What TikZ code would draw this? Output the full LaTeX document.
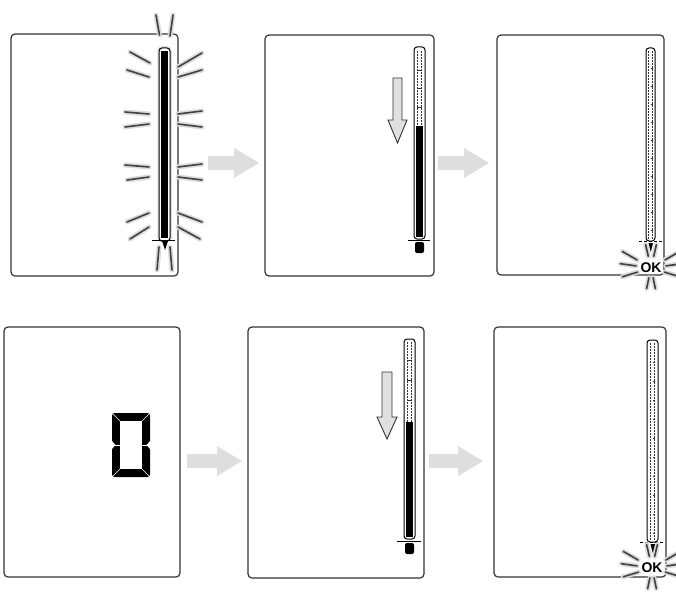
\documentclass[tikz,border=0pt]{standalone}
\usepackage{fontspec}
\setsansfont{Liberation Sans}
\begin{document}
\begin{tikzpicture}[x=1pt,y=-1pt,
  panel/.style={draw=black!80,line width=1.2pt,rounded corners=4pt,fill=white},
  flow/.style={fill=black!13},
  downarrow/.style={fill=black!12,draw=black!80,line width=0.9pt,line join=miter},
  barframe/.style={draw=black,line width=1pt,fill=white,rounded corners=3pt},
  barhalo/.style={draw=black!12,line width=3.5pt,rounded corners=3pt},
  dashin/.style={draw=black!80,line width=0.6pt,dash pattern=on 2pt off 1pt},
  tickin/.style={draw=black!80,line width=0.6pt},
  rayhalo/.style={draw=black!14,line width=5pt,line cap=round},
  raycore/.style={draw=black!75,line width=1.6pt,line cap=round},
  marker/.style={draw=black,line width=0.9pt},
  dmarker/.style={draw=black,line width=0.8pt,dash pattern=on 3pt off 2pt},
  oklabel/.style={fill=white,inner sep=0.8pt,rounded corners=2pt,font=\sffamily\bfseries\fontsize{14}{14}\selectfont}
]
\useasboundingbox (0,0) rectangle (676,599);
\fill[white] (0,0) rectangle (676,599);

% ---------- panels ----------
\draw[panel] (11,34) rectangle (178,276);
\draw[panel] (265,35) rectangle (434,276);
\draw[panel] (497,35) rectangle (664,275);
\draw[panel] (4,327) rectangle (180,577);
\draw[panel] (248,327) rectangle (424,578);
\draw[panel] (494,327) rectangle (666,577);

% ---------- flow arrows ----------
\newcommand\flowarr[3]{\fill[flow] (#1,#2-7) -- (#3-25,#2-7) -- (#3-25,#2-15) -- (#3,#2) -- (#3-25,#2+15) -- (#3-25,#2+7) -- (#1,#2+7) -- cycle;}
\flowarr{208}{163}{259}
\flowarr{438}{163}{489}
\flowarr{187}{461}{242}
\flowarr{429}{461}{483}

% ---------- panel 1: flashing bar ----------
\draw[barhalo] (159,48) rectangle (170,241);
\draw[barframe] (159,48) rectangle (170,241);
\fill[black] (161.3,51) rectangle (167.7,238);
\draw[marker] (152,240) -- (175,240);
\fill[black] (162,241) -- (168,241) -- (165,250) -- cycle;
\def\raysA{156/15/159.5/35, 173/15/170/36, 130/52/150/63, 127/70/149/77, 202/53/178/67, 202/70/178/77, 125/112/149/114, 125/127/149/124, 202/111/178/114, 202/127/178/124, 125/165/149/167, 127/180/149/177, 202/164/178/167, 202/180/178/177, 127/222/149/213, 130/239/149/227, 202/222/178/213, 200/239/178/227, 159/247/157/270, 170/247/172/270}
\foreach \a/\b/\c/\d in \raysA {\draw[rayhalo] (\a,\b) -- (\c,\d);}
\foreach \a/\b/\c/\d in \raysA {\draw[raycore] (\a,\b) -- (\c,\d);}

% ---------- panel 2: falling bar ----------
\draw[barframe] (414,47) rectangle (425,239);
\draw[dashin] (417.3,51) -- (417.3,126);
\draw[dashin] (421.7,51) -- (421.7,126);
\foreach \y in {70,88,107} {\draw[tickin] (417.3,\y) -- (421.7,\y);}
\fill[black] (416.3,126) rectangle (422.7,237);
\draw[marker] (408,240) -- (430,240);
\fill[black,rounded corners=2pt] (415,242) rectangle (424,253);
\draw[downarrow] (393,78) -- (402,78) -- (402,120) -- (407,120) -- (397.5,143) -- (388,120) -- (393,120) -- cycle;

% ---------- panel 3: empty bar + OK ----------
\draw[barframe] (646,48) rectangle (655,241);
\draw[dashin] (648.5,51) -- (648.5,239);
\draw[dashin] (652.5,51) -- (652.5,239);
\foreach \y in {68,86,104,122,140,158,176,194,212,230} {\draw[tickin] (650.5,\y) -- (652.5,\y);}
\draw[dmarker] (639,241) -- (662,241);
\coordinate (okc1) at (651,268);
\def\okrays{257/12/24, 283/12/24, 210/16/33, 188/15/31, 163/14/30, 102/10/21, 78/10/21, 330/16/33, 352/15/31, 17/14/30}
\foreach \t/\r/\R in \okrays {\draw[rayhalo] ([shift={(\t:\r)}]okc1) -- ([shift={(\t:\R)}]okc1);}
\foreach \t/\r/\R in \okrays {\draw[raycore] ([shift={(\t:\r)}]okc1) -- ([shift={(\t:\R)}]okc1);}
\fill[black] (648.5,243) -- (653,243) -- (650.75,252) -- cycle;
\node[oklabel] (ok1) at (okc1) {OK};

% ---------- panel 4: digit 0 ----------
\fill[black,rounded corners=2.5pt] (112,413) rectangle (150,477);
\fill[white] (120,421) rectangle (142,469);
\foreach \p/\q in {{(112,413)}/{(120,421)}, {(150,413)}/{(142,421)}, {(112,477)}/{(120,469)}, {(150,477)}/{(142,469)}}
  {\draw[white,line width=0.6pt] \p -- \q;}
\fill[white] (111,440) -- (115.5,445) -- (111,450) -- cycle;
\fill[white] (151,440) -- (146.5,445) -- (151,450) -- cycle;
\draw[white,line width=0.8pt] (111,445) -- (121,445);
\draw[white,line width=0.8pt] (141,445) -- (151,445);

% ---------- panel 5: falling bar ----------
\draw[barframe] (404,339) rectangle (415,539);
\draw[dashin] (407.3,342) -- (407.3,422);
\draw[dashin] (411.7,342) -- (411.7,422);
\foreach \y in {360,380,400} {\draw[tickin] (407.3,\y) -- (411.7,\y);}
\fill[black] (406.3,422) rectangle (412.7,537);
\draw[marker] (397,541) -- (421,541);
\fill[black,rounded corners=2pt] (405,543) rectangle (414,554);
\draw[downarrow] (382,372) -- (392,372) -- (392,417) -- (397,417) -- (387,439) -- (377,417) -- (382,417) -- cycle;

% ---------- panel 6: empty bar + OK ----------
\draw[barframe] (647,340) rectangle (658,542);
\draw[dashin] (650.5,343) -- (650.5,540);
\draw[dashin] (654.5,343) -- (654.5,540);
\foreach \y in {362,381,400,419,438,457,476,495,514,533} {\draw[tickin] (652.5,\y) -- (654.5,\y);}
\draw[dmarker] (640,542) -- (665,542);
\coordinate (okc2) at (652,568);
\foreach \t/\r/\R in \okrays {\draw[rayhalo] ([shift={(\t:\r)}]okc2) -- ([shift={(\t:\R)}]okc2);}
\foreach \t/\r/\R in \okrays {\draw[raycore] ([shift={(\t:\r)}]okc2) -- ([shift={(\t:\R)}]okc2);}
\fill[black] (650.5,544) -- (655,544) -- (652.75,553) -- cycle;
\node[oklabel] (ok2) at (okc2) {OK};
\end{tikzpicture}
\end{document}
